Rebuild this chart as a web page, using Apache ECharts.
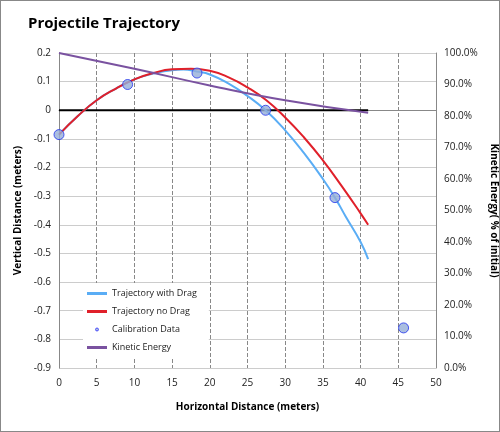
<!DOCTYPE html>
<html><head><meta charset="utf-8"><script src="https://cdn.jsdelivr.net/npm/echarts@6/dist/echarts.min.js"></script>
<style>body{margin:0}#c{width:500px;height:432px;box-sizing:border-box;border:1px solid #888}</style></head>
<body><div id="c"></div><script>
const dragX=[0,2.5,5,7.5,10,12.5,15,16.5,18.3,20,22.5,25,27.4,30,32.5,35,36.6,38,40,41];
const dragY=[-0.085,-0.02,0.035,0.075,0.108,0.128,0.14,0.142,0.135,0.125,0.093,0.05,0.0,-0.07,-0.15,-0.24,-0.305,-0.37,-0.46,-0.52];
const noDragX=[0,2.5,5,7.5,10,12.5,15,17.5,20,22.5,25,27.5,30,32.5,35,37.5,40,41];
const noDragY=[-0.085,-0.02,0.035,0.075,0.108,0.13,0.143,0.145,0.138,0.115,0.08,0.035,-0.025,-0.095,-0.175,-0.265,-0.36,-0.40];
const calX=[0,9.1,18.3,27.4,36.6,45.7];
const calY=[-0.085,0.09,0.13,0.0,-0.305,-0.76];
const keX=[0,10,20,30,41];
const keY=[100,95,89.7,85,81];
const z=a=>a[0].map((x,i)=>[x,a[1][i]]);
const ch=echarts.init(document.getElementById('c'));
const tf='"Open Sans", sans-serif';
ch.setOption({
 title:{text:'Projectile Trajectory',left:22,top:10,textStyle:{fontSize:15,fontWeight:'bold',fontFamily:tf,color:'#000'}},
 grid:{left:58,right:63,top:52,bottom:63,outerBoundsMode:'none',containLabel:false},
 legend:{orient:'vertical',left:82,top:282,itemGap:9,itemWidth:20,itemHeight:3,backgroundColor:'#fff',padding:[6,12,6,4],
  textStyle:{fontSize:9,fontFamily:tf,color:'#222'},
  data:[{name:'Trajectory with Drag',icon:'rect'},{name:'Trajectory no Drag',icon:'rect'},{name:'Calibration Data',icon:'circle',itemStyle:{borderColor:'#33f',borderWidth:1}},{name:'Kinetic Energy',icon:'rect'}]},
 xAxis:{type:'value',min:0,max:50,interval:5,name:'Horizontal Distance (meters)',nameLocation:'middle',nameGap:34,
  nameTextStyle:{fontSize:10,fontWeight:'bold',fontFamily:tf,color:'#000'},
  axisLine:{lineStyle:{color:'#888'}},axisTick:{show:false},axisLabel:{fontSize:10,color:'#222',fontFamily:tf,margin:10},
  splitLine:{lineStyle:{type:'dashed',color:'#888'}}},
 yAxis:[{type:'value',min:-0.9,max:0.2,interval:0.1,name:'Vertical Distance (meters)',nameLocation:'middle',nameGap:26,
  nameTextStyle:{fontSize:10,fontWeight:'bold',fontFamily:tf,color:'#000'},
  axisLine:{show:true,lineStyle:{color:'#888'}},axisTick:{show:false},
  axisLabel:{fontSize:10,color:'#222',fontFamily:tf,formatter:v=>Math.abs(v)<1e-9?'0':(+v.toFixed(1)).toString()},
  splitLine:{lineStyle:{color:'#ccc'}}},
  {type:'value',min:0,max:100,interval:10,name:'Kinetic Energy( % of initial)',nameLocation:'middle',nameGap:46,nameRotate:-90,
  nameTextStyle:{fontSize:10,fontWeight:'bold',fontFamily:tf,color:'#000'},
  axisLine:{show:true,lineStyle:{color:'#888'}},axisTick:{show:false},
  axisLabel:{fontSize:10,color:'#222',fontFamily:tf,formatter:v=>v.toFixed(1)+'%'},splitLine:{show:false}}],
 series:[
  {name:'zero',type:'line',data:[[0,0],[41,0]],symbol:'none',lineStyle:{color:'#000',width:2},silent:true},
  {name:'Trajectory with Drag',type:'line',smooth:true,data:z([dragX,dragY]),symbol:'none',color:'#5aadf5',lineStyle:{width:2}},
  {name:'Trajectory no Drag',type:'line',smooth:true,data:z([noDragX,noDragY]),symbol:'none',color:'#e0202a',lineStyle:{width:2}},
  {name:'Kinetic Energy',type:'line',smooth:true,yAxisIndex:1,data:z([keX,keY]),symbol:'none',color:'#7a52a0',lineStyle:{width:2}},
  {name:'Calibration Data',type:'scatter',data:z([calX,calY]),symbolSize:10,color:'#95aed8',itemStyle:{borderColor:'#2233ee',borderWidth:1},z:5}
 ]});
</script></body></html>
